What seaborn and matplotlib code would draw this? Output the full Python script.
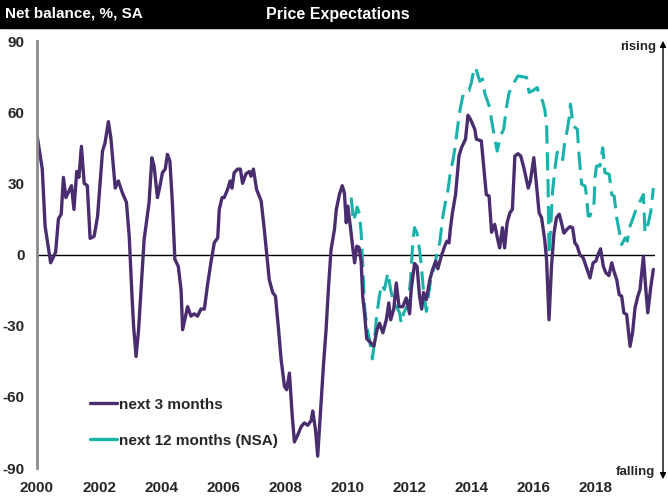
import matplotlib
matplotlib.use("Agg")
import matplotlib.pyplot as plt
from matplotlib.lines import Line2D
import seaborn as sns
import pandas as pd

# dates as decimal years
dates_3m = [2000.01, 2000.17, 2000.26, 2000.44, 2000.60, 2000.69, 2000.78, 2000.85, 2000.93,
            2001.11, 2001.19, 2001.28, 2001.35, 2001.43, 2001.52, 2001.62, 2001.71, 2001.84, 2001.95,
            2002.11, 2002.19, 2002.30, 2002.38, 2002.52, 2002.62, 2002.75, 2002.88, 2002.97,
            2003.05, 2003.11, 2003.19, 2003.27, 2003.35, 2003.45, 2003.61, 2003.70, 2003.77, 2003.88, 2003.96,
            2004.04, 2004.13, 2004.20, 2004.28, 2004.36, 2004.44, 2004.55, 2004.64, 2004.69, 2004.85, 2004.96,
            2005.06, 2005.17, 2005.28, 2005.39, 2005.49, 2005.60, 2005.71, 2005.82, 2005.87, 2005.96,
            2006.03, 2006.14, 2006.22, 2006.28, 2006.35, 2006.46, 2006.55, 2006.62, 2006.73, 2006.84, 2006.89, 2006.97,
            2007.07, 2007.22, 2007.32, 2007.40, 2007.48, 2007.59, 2007.68, 2007.78, 2007.86, 2007.97,
            2008.04, 2008.13, 2008.22, 2008.29, 2008.40, 2008.51, 2008.61, 2008.72, 2008.83, 2008.88, 2008.97,
            2009.04, 2009.15, 2009.23, 2009.31, 2009.39, 2009.47, 2009.58, 2009.64, 2009.74, 2009.83, 2009.90, 2009.96,
            2010.01, 2010.09, 2010.17, 2010.23, 2010.30, 2010.37, 2010.44, 2010.49, 2010.55, 2010.62, 2010.73, 2010.85, 2010.95,
            2011.03, 2011.14, 2011.25, 2011.33, 2011.39, 2011.49, 2011.57, 2011.66, 2011.78, 2011.89,
            2012.00, 2012.05, 2012.16, 2012.24, 2012.32, 2012.39, 2012.45, 2012.54, 2012.65, 2012.75, 2012.84, 2012.91,
            2013.02, 2013.13, 2013.20, 2013.27, 2013.31, 2013.38, 2013.48, 2013.59, 2013.67, 2013.80, 2013.88, 2013.96,
            2014.10, 2014.15, 2014.31, 2014.47, 2014.56, 2014.64, 2014.74, 2014.85, 2014.90, 2014.99,
            2015.06, 2015.14, 2015.23, 2015.31, 2015.39, 2015.49, 2015.58, 2015.69, 2015.82, 2015.89,
            2016.00, 2016.09, 2016.17, 2016.25, 2016.35, 2016.41, 2016.49, 2016.57, 2016.65, 2016.73, 2016.82, 2016.89, 2016.97,
            2017.07, 2017.16, 2017.25, 2017.32, 2017.40, 2017.48, 2017.59, 2017.70, 2017.81, 2017.91,
            2018.00, 2018.07, 2018.15, 2018.24, 2018.32, 2018.42, 2018.51, 2018.58, 2018.67, 2018.75, 2018.83, 2018.90, 2018.99,
            2019.10, 2019.18, 2019.26, 2019.35, 2019.42, 2019.53, 2019.60, 2019.67, 2019.77, 2019.85]
values_3m = [49.6, 36, 12, -3.5, 1, 15, 17, 32.5, 24,
             29, 19, 35, 32.5, 45.6, 30, 29, 6.8, 7.7, 16,
             43.6, 47, 56, 49, 28, 31, 26, 22, 7.7,
             -15, -30, -43, -32, -15, 6.3, 22, 40.8, 37.3, 24, 28.9,
             34.5, 36, 42.2, 39.4, 21.8, -2, -5, -15, -31.7, -22, -26,
             -25, -26, -23, -23, -13, -3.5, 5, 7, 19, 24,
             24, 27.5, 31, 28, 34.5, 36, 36, 30, 34, 35, 33, 36,
             27.5, 22.5, 10.6, 0, -10.6, -16, -17.6, -31.7, -44, -55.6,
             -57, -50, -68, -79, -76, -72.5, -71, -72, -70, -66, -74,
             -85, -62.7, -45.8, -31.7, -13.4, 2, 10.6, 19, 25.3, 29, 26, 13.4,
             20.4, 12, 2.8, -3.5, 3.5, 3, -3, -17.6, -25, -35.5, -37, -38.6, -31.7,
             -29, -33, -27.5, -20.4, -27.5, -23, -12, -22, -22, -18.3,
             -25, -14.8, -3.8, -5, -17.6, -23, -16, -19, -10.6, -6, -2.8, -6,
             -0.7, 3.5, 5.6, 4.9, 10.6, 17.6, 25.3, 41.5, 45, 48.6, 58.7, 57,
             52.8, 48.6, 47.9, 25.3, 24.6, 9.4, 12.7, 5.6, 2.8, 11.3,
             2.8, 13.4, 17.6, 19, 41.5, 42.5, 41.5, 36, 28, 31,
             40.8, 28.9, 17.6, 15.5, 6.3, -2, -27.5, -5, 9, 15.5, 17, 13.4, 9,
             10.6, 11.7, 11.3, 5, 3.5, 0, -1.4, -5.6, -9.9, -3.5,
             -2.8, 0, 2.4, -5, -7.7, -8.9, -3.5, -7, -10.6, -16.9, -17.6, -24.6, -25.3,
             -38.7, -33, -22.5, -17.6, -14.8, -0.7, -13.4, -24.6, -13.4, -6.3]

dates_12m = [2010.12, 2010.19, 2010.26, 2010.31, 2010.39, 2010.44, 2010.49, 2010.55, 2010.60, 2010.66,
             2010.71, 2010.80, 2010.85, 2010.93, 2011.01, 2011.09, 2011.19, 2011.30, 2011.39, 2011.46,
             2011.57, 2011.68, 2011.73, 2011.81, 2011.95, 2012.03, 2012.11, 2012.16, 2012.24, 2012.32,
             2012.38, 2012.45, 2012.54, 2012.62, 2012.70, 2012.81, 2012.88, 2012.97, 2013.07, 2013.15,
             2013.24, 2013.31, 2013.40, 2013.45, 2013.53, 2013.61, 2013.70, 2013.77, 2013.91, 2013.99,
             2014.04, 2014.12, 2014.26, 2014.35, 2014.42, 2014.56, 2014.69, 2014.82, 2014.93, 2015.03,
             2015.12, 2015.20, 2015.33, 2015.49, 2015.61, 2015.77, 2015.85, 2015.96, 2016.11, 2016.19,
             2016.28, 2016.35, 2016.41, 2016.43, 2016.46, 2016.49, 2016.54, 2016.60, 2016.68, 2016.75,
             2016.84, 2016.93, 2017.00, 2017.07, 2017.14, 2017.18, 2017.27, 2017.40, 2017.46, 2017.54,
             2017.65, 2017.70, 2017.75, 2017.81, 2017.94, 2017.97, 2018.02, 2018.13, 2018.22, 2018.29,
             2018.43, 2018.51, 2018.59, 2018.67, 2018.75, 2018.83, 2018.94, 2019.01, 2019.10, 2019.20,
             2019.31, 2019.40, 2019.53, 2019.58, 2019.69, 2019.77, 2019.85]
values_12m = [24, 14, 17, 20, 17, 9, -4, -22, -28, -33,
              -36, -44, -38.7, -27, -19, -12.7, -14.8, -7.7, -14.8, -19,
              -21.8, -24.6, -29, -24.6, -21, -10.6, 6.3, 11.3, 9, 2,
              -5, -16, -24, -16, -9, -5, 0.7, 5, 16, 21.8,
              27.5, 34.5, 40, 44, 52, 60, 66, 69, 69, 72.5,
              76, 79, 73, 74, 68, 62.7, 52.8, 43.6, 50, 52.8,
              62, 68, 71.8, 75.3, 75, 74.6, 68.3, 69, 70.4, 66.2,
              64.8, 61.3, 55.6, 45, 29, 0, 10.6, 26, 36, 43,
              43.6, 40, 47.9, 52, 57.7, 63.4, 54.2, 52.8, 41.5, 29.6,
              28.9, 24.6, 16.2, 16.2, 21.8, 32.4, 37.3, 37.3, 45, 34.5,
              33.8, 25.3, 24.6, 15.5, 9.9, 4.2, 7, 5.6, 12, 15.5,
              19.7, 21.8, 25.3, 9.2, 13.4, 18.3, 28]

year_ticks = [2000, 2002, 2004, 2006, 2008, 2010, 2012, 2014, 2016, 2018]
y_ticks = [-90, -60, -30, 0, 30, 60, 90]

purple = "#4a2d6e"
teal = "#19b2aa"

sns.set_style("white")
plt.rcParams["font.family"] = ["Liberation Sans", "DejaVu Sans"]

df3 = pd.DataFrame({"date": dates_3m, "value": values_3m})
df12 = pd.DataFrame({"date": dates_12m, "value": values_12m})

fig = plt.figure(figsize=(6.68, 4.99), dpi=100)
ax = fig.add_axes([37 / 668, 1 - 468 / 499, (655 - 37) / 668, (468 - 41) / 499])

sns.lineplot(data=df12, x="date", y="value", ax=ax, color=teal, lw=2.2,
             estimator=None, sort=False)
ax.lines[-1].set_dashes((6, 2.8))
sns.lineplot(data=df3, x="date", y="value", ax=ax, color=purple, lw=2.4,
             estimator=None, sort=False)

ax.axhline(0, color="black", lw=1, zorder=1)
ax.set_xlim(2000, 2000 + (655 - 38) / 31)
ax.set_ylim(-90, 90)
ax.set_xticks(year_ticks)
ax.set_xticklabels([str(y) for y in year_ticks], fontsize=11, fontweight="bold")
ax.set_yticks(y_ticks)
ax.set_yticklabels([str(v) for v in y_ticks], fontsize=11, fontweight="bold")
ax.tick_params(axis="both", length=0)
ax.tick_params(axis="x", pad=9)
ax.tick_params(axis="y", pad=9)
ax.set_xlabel("")
ax.set_ylabel("")
for side in ["top", "right", "bottom"]:
    ax.spines[side].set_visible(False)
ax.spines["left"].set_color("#8c8c8c")
ax.spines["left"].set_linewidth(2)

handles = [Line2D([], [], color=purple, lw=2.4), Line2D([], [], color=teal, lw=2.4)]
ax.legend(handles, ["next 3 months", "next 12 months (NSA)"], loc="lower left",
          bbox_to_anchor=(0.063, 0.015), frameon=False, handlelength=1.8,
          handletextpad=0.1, labelspacing=1.45, prop={"weight": "bold", "size": 11})

# title band
fig.patches.append(plt.Rectangle((0, 1 - 28 / 499), 1, 28 / 499, transform=fig.transFigure,
                                 color="black", zorder=0))
fig.text(5 / 668, 1 - 14 / 499, "Net balance, %, SA", color="white", fontsize=11,
         fontweight="bold", va="center", ha="left")
fig.text(338 / 668, 1 - 14 / 499, "Price Expectations", color="white", fontsize=11.5,
         fontweight="bold", va="center", ha="center")

# rising / falling arrow on the right
fig.patches.append(matplotlib.patches.FancyArrowPatch(
    (663 / 668, 1 - 482 / 499), (663 / 668, 1 - 38 / 499), transform=fig.transFigure,
    arrowstyle="<|-|>", mutation_scale=9, color="black", lw=1))
fig.text(656 / 668, 1 - 47 / 499, "rising", fontsize=9.5, fontweight="bold", ha="right", va="center")
fig.text(655 / 668, 1 - 472 / 499, "falling", fontsize=9.5, fontweight="bold", ha="right", va="center")

fig.savefig("out.png", dpi=100)
